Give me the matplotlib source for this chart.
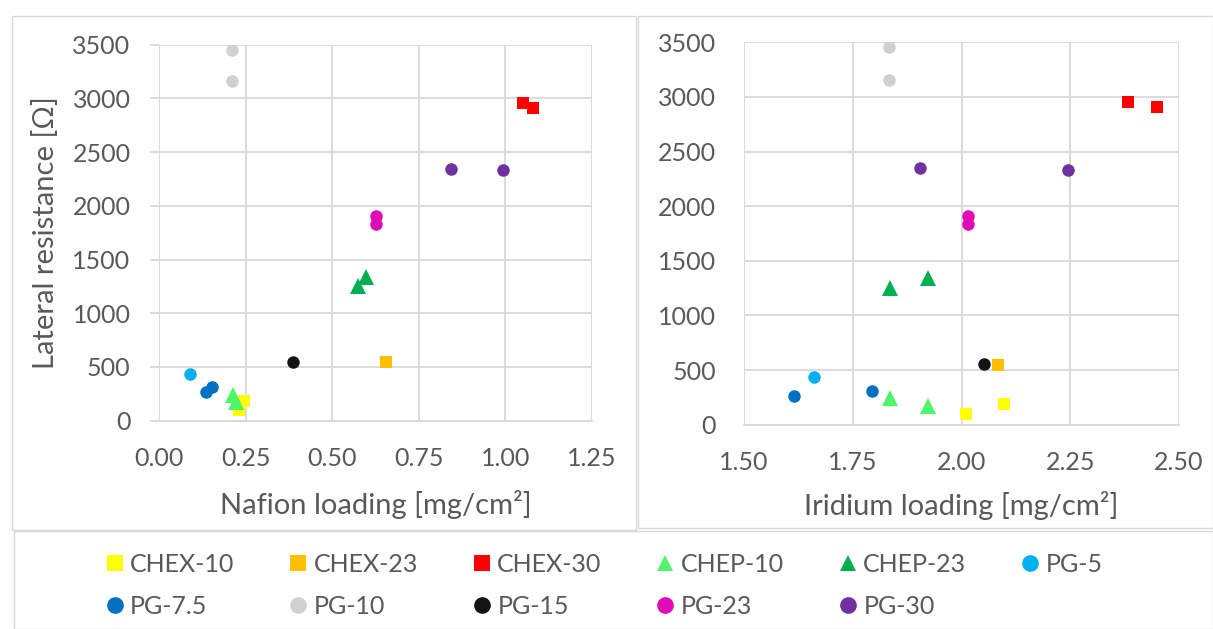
import matplotlib
matplotlib.use("Agg")
import matplotlib.pyplot as plt
from matplotlib.lines import Line2D
from matplotlib.patches import Rectangle

plt.rcParams['font.family'] = ['Lato', 'DejaVu Sans']

# === data ===
names = ["CHEX-10", "CHEX-23", "CHEX-30", "CHEP-10", "CHEP-23", "PG-5",
         "PG-7.5", "PG-10", "PG-15", "PG-23", "PG-30"]

nafion = [[0.232, 0.246], [0.655], [1.051, 1.079], [0.213, 0.223], [0.575, 0.599],
          [0.090], [0.135, 0.152], [0.210, 0.210], [0.387], [0.626, 0.626], [0.842, 0.994]]

iridium = [[2.010, 2.098], [2.084], [2.382, 2.450], [1.835, 1.922], [1.835, 1.922],
           [1.662], [1.615, 1.795], [1.834, 1.834], [2.052], [2.016, 2.016], [1.904, 2.245]]

resistance = [[97, 187], [543], [2958, 2911], [240, 175], [1254, 1342],
              [438], [263, 313], [3455, 3159], [551], [1909, 1833], [2346, 2334]]

colors = ["#FFFF00", "#FFC000", "#FF0000", "#4CF56C", "#00B050", "#00B0F0",
          "#0070C0", "#D0D0D0", "#141414", "#DE0BB6", "#7030A0"]
markers = ["s", "s", "s", "^", "^", "o", "o", "o", "o", "o", "o"]

grid_c = "#D9D9D9"
text_c = "#595959"
fs = 18

fig = plt.figure(figsize=(12.13, 6.29), dpi=100)

# panel borders (excel chart areas)
for (x0, y0, x1, y1) in [(12, 16, 636, 530), (638, 16, 1213, 528), (14, 531, 1213, 629)]:
    fig.patches.append(Rectangle((x0 / 1213, 1 - y1 / 629), (x1 - x0) / 1213, (y1 - y0) / 629,
                                 transform=fig.transFigure, fill=False,
                                 edgecolor=grid_c, linewidth=1.0))

ax1 = fig.add_axes([159 / 1213, 1 - 420.7 / 629, 433 / 1213, 376 / 629])
ax2 = fig.add_axes([744 / 1213, 1 - 424.7 / 629, 435 / 1213, 382.4 / 629])

ms = {"s": 9.2, "o": 9.0, "^": 11}
for i, name in enumerate(names):
    m = markers[i]
    ax1.plot(nafion[i], resistance[i], ls="none", marker=m, ms=ms[m], mew=0,
             color=colors[i], zorder=3)
    ax2.plot(iridium[i], resistance[i], ls="none", marker=m, ms=ms[m], mew=0,
             color=colors[i], zorder=3)

ax1.set_xlim(0, 1.25)
ax1.set_xticks([0, 0.25, 0.5, 0.75, 1.0, 1.25])
ax2.set_xlim(1.5, 2.5)
ax2.set_xticks([1.5, 1.75, 2.0, 2.25, 2.5])

for ax in (ax1, ax2):
    ax.set_ylim(0, 3500)
    ax.set_yticks(range(0, 3501, 500))
    ax.xaxis.set_major_formatter(matplotlib.ticker.FormatStrFormatter("%.2f"))
    ax.grid(True, color=grid_c, linewidth=1.3)
    ax.set_axisbelow(True)
    for s in ["top", "right", "left"]:
        ax.spines[s].set_visible(False)
    ax.spines["bottom"].set_color(grid_c)
    ax.spines["bottom"].set_linewidth(1.3)
    ax.tick_params(axis="x", length=0, pad=19, labelsize=fs, labelcolor=text_c)
    ax.set_facecolor("none")

ax1.tick_params(axis="y", length=6.5, width=1.3, color=grid_c, pad=14,
                labelsize=fs, labelcolor=text_c)
ax2.tick_params(axis="y", length=0, pad=20, labelsize=fs, labelcolor=text_c)

ax1.set_ylabel("Lateral resistance [Ω]", fontsize=21, color=text_c)
ax1.yaxis.set_label_coords(-0.263, 0.5)
ax1.yaxis.label.set_va("center")
ax1.set_xlabel("Nafion loading [mg/cm²]", fontsize=21, color=text_c)
ax1.xaxis.set_label_coords(0.5, -0.224)
ax1.xaxis.label.set_va("center")
ax2.set_xlabel("Iridium loading [mg/cm²]", fontsize=21, color=text_c)
ax2.xaxis.set_label_coords(0.5, -0.2126)
ax2.xaxis.label.set_va("center")

# legend laid out row by row like excel: matplotlib fills columns, so interleave
handles = [Line2D([], [], ls="none", marker=markers[i], color=colors[i], ms=12, mew=0)
           for i in range(len(names))]
order = []
for c in range(6):
    order.append(c)
    if c + 6 < len(names):
        order.append(c + 6)
leg = fig.legend([handles[i] for i in order], [names[i] for i in order],
                 ncol=6, loc="upper left",
                 bbox_to_anchor=(104.5 / 1213, 1 - 553 / 629), frameon=False,
                 fontsize=fs, handlelength=0.8, handletextpad=0.22,
                 columnspacing=2.15, labelspacing=0.75, borderpad=0, borderaxespad=0)
for t in leg.get_texts():
    t.set_color(text_c)

fig.savefig("out.png", dpi=100)
